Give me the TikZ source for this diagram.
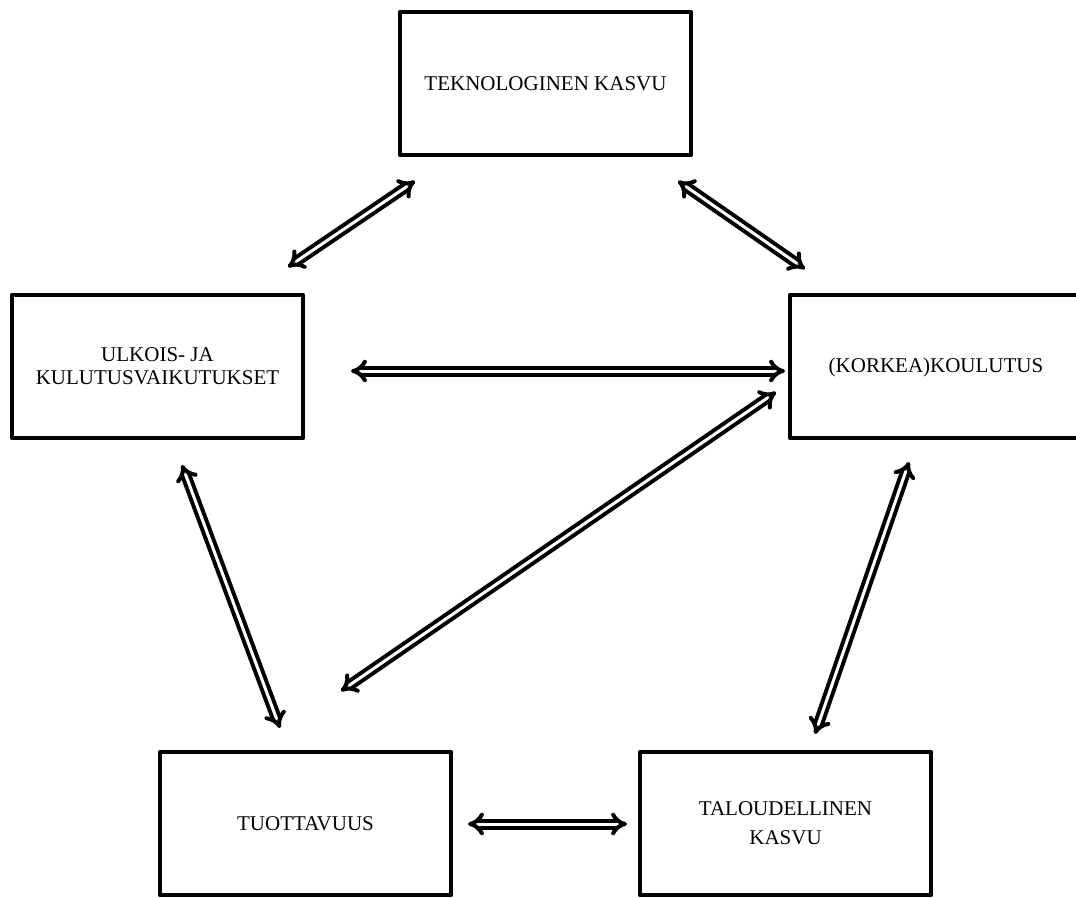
\documentclass[tikz,border=0pt]{standalone}
\usepackage{fontspec}
\setmainfont{Liberation Serif}
\usetikzlibrary{arrows.meta}
\begin{document}
\begin{tikzpicture}[x=1pt,y=-1pt,
  box/.style={draw,line width=4.8pt,line join=round,outer sep=0pt,minimum width=291pt,minimum height=143pt,anchor=north west,inner sep=0pt,align=center,font=\fontsize{21}{23}\selectfont},
  dbl/.style={double,line width=4pt,double distance=3pt,{Implies[length=9pt]}-{Implies[length=9pt]}}]
\useasboundingbox (0,0) rectangle (1076,897);
\node[box] (tek) at (400,12) {TEKNOLOGINEN KASVU};
\node[box] (ulk) at (12,295) {ULKOIS- JA\\KULUTUSVAIKUTUKSET};
\node[box,minimum width=330pt] (kor) at (790,295) {};
\node at (936,367) {\fontsize{21}{23}\selectfont (KORKEA)KOULUTUS};
\node[box] (tuo) at (160,752) {TUOTTAVUUS};
\node[box] (tal) at (640,752) {TALOUDELLINEN\\[6pt]KASVU};
\coordinate (a1) at (415,181); \coordinate (b1) at (288,267);
\coordinate (a2) at (678,181); \coordinate (b2) at (805,269);
\coordinate (a3) at (351,371); \coordinate (b3) at (785,371);
\coordinate (a4) at (776,392); \coordinate (b4) at (341,691);
\coordinate (a5) at (182,465); \coordinate (b5) at (280,728);
\coordinate (a6) at (909,462); \coordinate (b6) at (815,734);
\coordinate (a7) at (468,824); \coordinate (b7) at (627,824);
\foreach \i in {1,...,7} \draw[dbl] (a\i) -- (b\i);
\end{tikzpicture}
\end{document}
